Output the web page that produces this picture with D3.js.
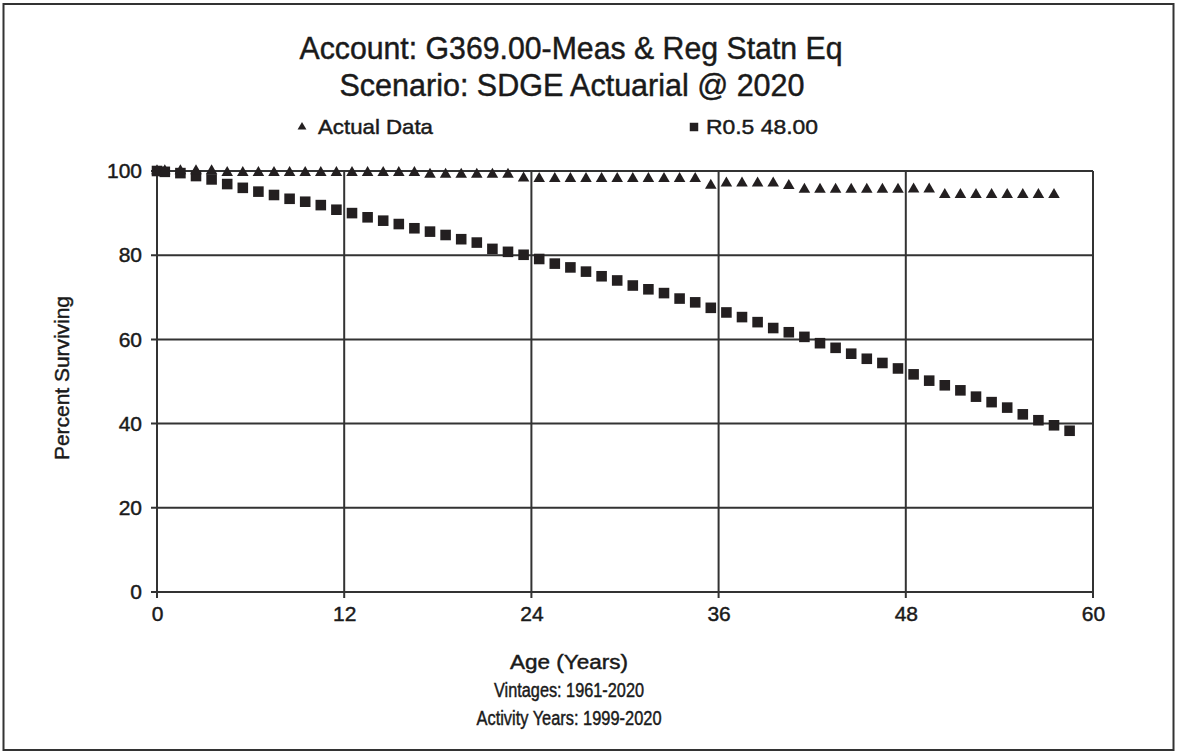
<!DOCTYPE html>
<html>
<head>
<meta charset="utf-8">
<script src="https://cdn.jsdelivr.net/npm/d3@7"></script>
<style>
  html, body { margin: 0; padding: 0; background: #fff; }
  svg { display: block; }
  text { font-family: "Liberation Sans Narrow", "Liberation Sans", Arial, sans-serif; fill: #1a1a1a; stroke: #1a1a1a; stroke-width: 0.45px; }
</style>
</head>
<body>
<script>
// ---- Data ----
const titleLines = ["Account: G369.00-Meas & Reg Statn Eq", "Scenario: SDGE Actuarial @ 2020"];
const legendLabels = ["Actual Data", "R0.5 48.00"];
const xTicks = [0, 12, 24, 36, 48, 60];
const yTicks = [0, 20, 40, 60, 80, 100];
const xTitleLines = ["Age (Years)", "Vintages: 1961-2020", "Activity Years: 1999-2020"];
const yTitle = "Percent Surviving";

// Actual Data (triangles)
const actualAges = [0, 0.5, 1.5, 2.5, 3.5, 4.5, 5.5, 6.5, 7.5, 8.5, 9.5, 10.5, 11.5, 12.5, 13.5, 14.5,
  15.5, 16.5, 17.5, 18.5, 19.5, 20.5, 21.5, 22.5, 23.5, 24.5, 25.5, 26.5, 27.5, 28.5, 29.5, 30.5,
  31.5, 32.5, 33.5, 34.5, 35.5, 36.5, 37.5, 38.5, 39.5, 40.5, 41.5, 42.5, 43.5, 44.5, 45.5, 46.5,
  47.5, 48.5, 49.5, 50.5, 51.5, 52.5, 53.5, 54.5, 55.5, 56.5, 57.5];
const actualValues = [100, 100, 100, 100, 100, 99.6, 99.6, 99.6, 99.6, 99.6, 99.6, 99.6, 99.6, 99.6, 99.6, 99.6,
  99.6, 99.6, 99.2, 99.2, 99.2, 99.2, 99.2, 99.2, 98.3, 98.2, 98.2, 98.2, 98.2, 98.2, 98.2, 98.2,
  98.2, 98.2, 98.2, 98.2, 96.6, 97.1, 97.1, 97.1, 97.1, 96.5, 95.6, 95.6, 95.6, 95.6, 95.6, 95.6,
  95.6, 95.7, 95.7, 94.4, 94.4, 94.4, 94.4, 94.4, 94.4, 94.4, 94.4];

// R0.5 48.00 (squares)
const curveAges = [0, 0.5, 1.5, 2.5, 3.5, 4.5, 5.5, 6.5, 7.5, 8.5, 9.5, 10.5, 11.5, 12.5, 13.5, 14.5,
  15.5, 16.5, 17.5, 18.5, 19.5, 20.5, 21.5, 22.5, 23.5, 24.5, 25.5, 26.5, 27.5, 28.5, 29.5, 30.5,
  31.5, 32.5, 33.5, 34.5, 35.5, 36.5, 37.5, 38.5, 39.5, 40.5, 41.5, 42.5, 43.5, 44.5, 45.5, 46.5,
  47.5, 48.5, 49.5, 50.5, 51.5, 52.5, 53.5, 54.5, 55.5, 56.5, 57.5, 58.5];
const curveValues = [100, 99.8, 99.5, 98.8, 98.0, 96.9, 96.0, 95.1, 94.3, 93.4, 92.7, 91.9, 90.8, 90.0, 89.0, 88.2,
  87.4, 86.4, 85.6, 84.8, 83.8, 83.0, 81.5, 80.8, 80.1, 79.1, 78.0, 77.1, 76.1, 75.0, 74.0, 72.8,
  71.9, 71.0, 69.7, 68.8, 67.5, 66.4, 65.3, 64.1, 62.7, 61.7, 60.6, 59.1, 58.0, 56.6, 55.4, 54.4,
  53.1, 51.7, 50.2, 49.1, 47.9, 46.4, 45.1, 43.8, 42.2, 40.8, 39.6, 38.3];

// ---- Layout ----
const W = 1177, H = 754;
const plot = { left: 157, right: 1093, top: 171, bottom: 592 };
const ink = "#231f20", gridColor = "#333";

const svg = d3.select("body").append("svg").attr("width", W).attr("height", H);

// outer frame
svg.append("rect").attr("x", 3.5).attr("y", 4).attr("width", 1170).attr("height", 746)
  .attr("fill", "none").attr("stroke", "#333").attr("stroke-width", 2);

const x = d3.scaleLinear().domain([0, 60]).range([plot.left, plot.right]);
const y = d3.scaleLinear().domain([0, 100]).range([plot.bottom, plot.top]);

// grid
const g = svg.append("g");
g.selectAll("line.vg").data(xTicks).join("line")
  .attr("x1", d => x(d)).attr("x2", d => x(d))
  .attr("y1", plot.top).attr("y2", plot.bottom + 6)
  .attr("stroke", gridColor).attr("stroke-width", 2);
g.selectAll("line.hg").data(yTicks).join("line")
  .attr("x1", plot.left - 6).attr("x2", plot.right)
  .attr("y1", d => y(d)).attr("y2", d => y(d))
  .attr("stroke", gridColor).attr("stroke-width", 2);

// axes labels via d3 axes (text only)
const xAxis = svg.append("g").attr("transform", `translate(0,${plot.bottom})`)
  .call(d3.axisBottom(x).tickValues(xTicks).tickSize(0).tickPadding(14).tickFormat(d3.format("d")));
xAxis.select(".domain").remove();
xAxis.selectAll("text").attr("font-size", 21).attr("fill", "#1a1a1a");

const yAxis = svg.append("g").attr("transform", `translate(${plot.left},0)`)
  .call(d3.axisLeft(y).tickValues(yTicks).tickSize(0).tickPadding(15).tickFormat(d3.format("d")));
yAxis.select(".domain").remove();
yAxis.selectAll("text").attr("font-size", 21).attr("fill", "#1a1a1a");

// titles
const titleSpec = [
  { t: titleLines[0], cx: 571, y: 59, w: 543, fs: 31 },
  { t: titleLines[1], cx: 572, y: 96, w: 465, fs: 31 }
];
titleSpec.forEach(s => {
  svg.append("text").attr("x", s.cx).attr("y", s.y).attr("text-anchor", "middle")
    .attr("font-size", s.fs).attr("textLength", s.w).attr("lengthAdjust", "spacingAndGlyphs").text(s.t);
});

// legend
const tri = d3.symbol().type(d3.symbolTriangle).size(58);
const sq = d3.symbol().type(d3.symbolSquare).size(112);
svg.append("path").attr("d", d3.symbol().type(d3.symbolTriangle).size(34)()).attr("transform", "translate(302,127)").attr("fill", ink);
svg.append("text").attr("x", 318).attr("y", 134).attr("font-size", 21).attr("textLength", 115)
  .attr("lengthAdjust", "spacingAndGlyphs").text(legendLabels[0]);
svg.append("path").attr("d", d3.symbol().type(d3.symbolSquare).size(72)()).attr("transform", "translate(694,127)").attr("fill", ink);
svg.append("text").attr("x", 706).attr("y", 134).attr("font-size", 21).attr("textLength", 112)
  .attr("lengthAdjust", "spacingAndGlyphs").text(legendLabels[1]);

// axis titles
svg.append("text").attr("transform", "translate(69,378) rotate(-90)").attr("text-anchor", "middle")
  .attr("font-size", 21).attr("textLength", 164).attr("lengthAdjust", "spacingAndGlyphs").text(yTitle);
const xtSpec = [{ y: 669, w: 118 }, { y: 697, w: 150 }, { y: 725, w: 185 }];
xTitleLines.forEach((t, i) => {
  svg.append("text").attr("x", 569).attr("y", xtSpec[i].y).attr("text-anchor", "middle")
    .attr("font-size", 20).attr("textLength", xtSpec[i].w).attr("lengthAdjust", "spacingAndGlyphs").text(t);
});

// data markers
const curveData = curveAges.map((a, i) => ({ a, v: curveValues[i] }));
const actualData = actualAges.map((a, i) => ({ a, v: actualValues[i] }));

svg.append("g").selectAll("path").data(curveData).join("path")
  .attr("d", sq).attr("transform", d => `translate(${x(d.a)},${y(d.v)})`).attr("fill", ink);
svg.append("g").selectAll("path").data(actualData).join("path")
  .attr("d", tri).attr("transform", d => `translate(${x(d.a)},${y(d.v)})`).attr("fill", ink);
</script>
</body>
</html>
